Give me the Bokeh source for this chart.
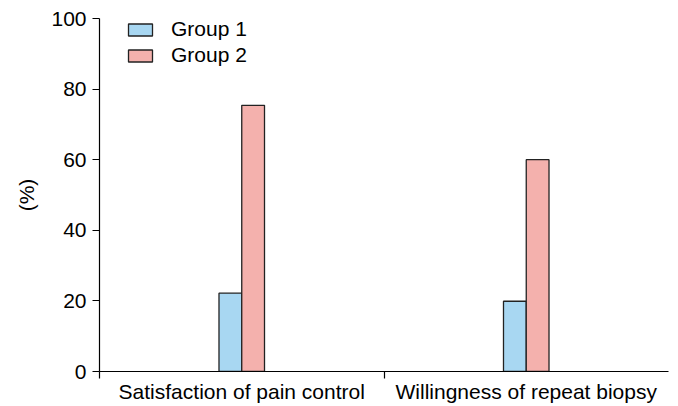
from bokeh.plotting import figure
from bokeh.models import ColumnDataSource, FixedTicker, Range1d, Legend, LegendItem
from bokeh.embed import file_html
from bokeh.resources import INLINE

# Survey outcomes (%) per group
categories = ["Satisfaction of pain control", "Willingness of repeat biopsy"]
group1 = [22.2, 19.9]
group2 = [75.4, 60.0]
y_ticks = [0, 20, 40, 60, 80, 100]

FONT = "Liberation Sans"
FS = "21px"
BLUE = "#a8d7f2"
PINK = "#f4b1ad"
EDGE = "#222222"

centers = [i + 0.5 for i in range(len(categories))]
bar_w = 0.08

src1 = ColumnDataSource(dict(x=[c - bar_w / 2 for c in centers], top=group1))
src2 = ColumnDataSource(dict(x=[c + bar_w / 2 for c in centers], top=group2))

p = figure(width=678, height=406, output_backend="svg", toolbar_location=None,
           x_range=Range1d(0, len(categories)), y_range=Range1d(0, 100),
           min_border_left=99, min_border_right=10, min_border_top=18, min_border_bottom=35)
p.outline_line_color = None
p.grid.visible = False
p.background_fill_color = None
p.border_fill_color = "white"

r1 = p.vbar(x="x", top="top", width=bar_w, bottom=0, source=src1,
            fill_color=BLUE, line_color=EDGE, line_width=1.3)
r2 = p.vbar(x="x", top="top", width=bar_w, bottom=0, source=src2,
            fill_color=PINK, line_color=EDGE, line_width=1.3)

# x axis: category names centered, separator ticks at the left edge and between groups
xa = p.xaxis[0]
xa.ticker = FixedTicker(ticks=centers, minor_ticks=[0, 1])
xa.major_label_overrides = {c: name for c, name in zip(centers, categories)}
xa.major_tick_out = 0
xa.major_tick_in = 0
xa.minor_tick_out = 7
xa.minor_tick_in = 0
xa.major_label_standoff = 1
xa.major_label_text_font = FONT
xa.major_label_text_font_size = FS
xa.major_label_text_color = "black"
xa.axis_line_color = "black"
xa.axis_line_width = 1.2
xa.minor_tick_line_color = "black"
xa.minor_tick_line_width = 1.2

ya = p.yaxis[0]
ya.ticker = FixedTicker(ticks=y_ticks, minor_ticks=[])
ya.major_tick_out = 7
ya.major_tick_in = 0
ya.major_label_standoff = 6
ya.major_label_text_font = FONT
ya.major_label_text_font_size = FS
ya.major_label_text_color = "black"
ya.axis_line_color = "black"
ya.axis_line_width = 1.2
ya.major_tick_line_color = "black"
ya.major_tick_line_width = 1.2
ya.axis_label = "(%)"
ya.axis_label_text_font = FONT
ya.axis_label_text_font_size = FS
ya.axis_label_text_font_style = "normal"
ya.axis_label_text_color = "black"
ya.axis_label_standoff = 10

legend = Legend(items=[LegendItem(label="Group 1", renderers=[r1]),
                       LegendItem(label="Group 2", renderers=[r2])],
                location=(26, 304), orientation="vertical",
                glyph_width=30, glyph_height=15, label_height=20,
                label_standoff=16, spacing=2, padding=0, margin=0,
                border_line_color=None, background_fill_alpha=0,
                label_text_font=FONT, label_text_font_size=FS,
                label_text_color="black")
p.add_layout(legend)

open("out.html", "w").write(file_html(p, INLINE))
